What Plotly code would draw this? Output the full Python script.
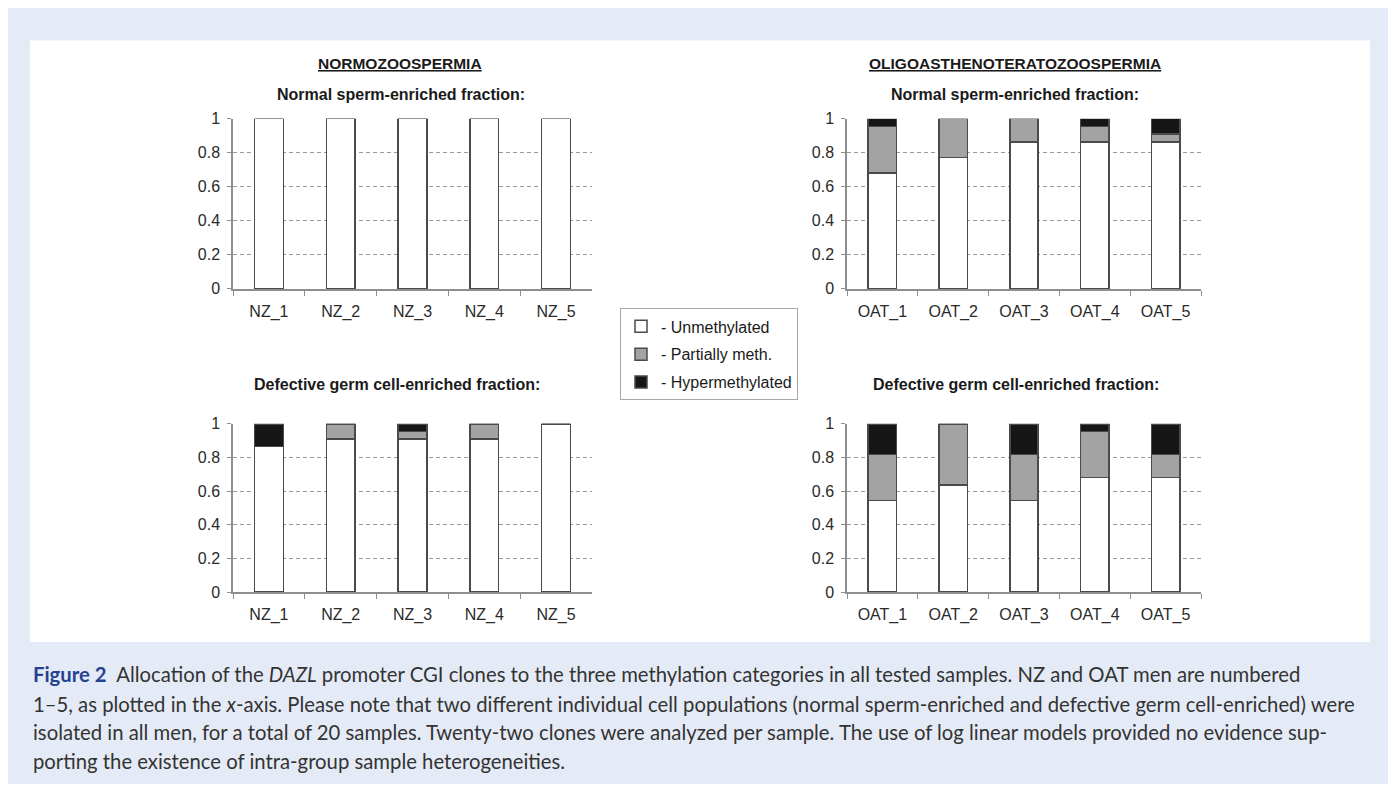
import plotly.graph_objects as go

# Figure is 1380x776; the page's default 8px body margin places it at (8,8)
# inside the 1396x792 window, so reference pixel (rx, ry) -> layout (rx-8, ry-8).
W, H = 1380, 776
OFF = 8

nz_labels = ["NZ_1", "NZ_2", "NZ_3", "NZ_4", "NZ_5"]
oat_labels = ["OAT_1", "OAT_2", "OAT_3", "OAT_4", "OAT_5"]

# Normozoospermia - normal sperm-enriched fraction
nz_norm_unmeth = [1.0, 1.0, 1.0, 1.0, 1.0]
nz_norm_partial = [0.0, 0.0, 0.0, 0.0, 0.0]
nz_norm_hyper = [0.0, 0.0, 0.0, 0.0, 0.0]

# OAT - normal sperm-enriched fraction
oat_norm_unmeth = [0.682, 0.773, 0.864, 0.864, 0.864]
oat_norm_partial = [0.273, 0.227, 0.136, 0.091, 0.045]
oat_norm_hyper = [0.045, 0.0, 0.0, 0.045, 0.091]

# Normozoospermia - defective germ cell-enriched fraction
nz_def_unmeth = [0.864, 0.909, 0.909, 0.909, 1.0]
nz_def_partial = [0.0, 0.091, 0.045, 0.091, 0.0]
nz_def_hyper = [0.136, 0.0, 0.045, 0.0, 0.0]

# OAT - defective germ cell-enriched fraction
oat_def_unmeth = [0.545, 0.636, 0.545, 0.682, 0.682]
oat_def_partial = [0.273, 0.364, 0.273, 0.273, 0.136]
oat_def_hyper = [0.182, 0.0, 0.182, 0.045, 0.182]

series_names = ["- Unmethylated", "- Partially meth.", "- Hypermethylated"]
series_colors = ["#ffffff", "#a3a3a3", "#161616"]

panels = [
    ("x", "y", nz_labels, [nz_norm_unmeth, nz_norm_partial, nz_norm_hyper]),
    ("x2", "y2", oat_labels, [oat_norm_unmeth, oat_norm_partial, oat_norm_hyper]),
    ("x3", "y3", nz_labels, [nz_def_unmeth, nz_def_partial, nz_def_hyper]),
    ("x4", "y4", oat_labels, [oat_def_unmeth, oat_def_partial, oat_def_hyper]),
]

fig = go.Figure()
for pi, (xa, ya, cats, vals) in enumerate(panels):
    for si in range(3):
        fig.add_trace(go.Bar(
            x=cats, y=vals[si], xaxis=xa, yaxis=ya,
            name=series_names[si], legendgroup=series_names[si],
            showlegend=(pi == 1),
            marker=dict(color=series_colors[si], line=dict(color="#4a4a4a", width=1.5)),
            hoverinfo="x+y+name",
        ))


def px_x(p):
    return (p - OFF) / W


def px_y(p):
    return 1 - (p - OFF) / H


FONT = "Liberation Sans, Arial, sans-serif"
tickfont = dict(family=FONT, size=16, color="#2a2a2a")
grid = dict(showgrid=True, gridcolor="#9a9a9a", griddash="4px,3px", gridwidth=1)


def xaxis(x0, x1, anchor):
    return dict(domain=[px_x(x0), px_x(x1)], anchor=anchor, type="category",
                showline=True, linecolor="#8e8e8e", linewidth=1.5,
                ticks="outside", tickson="boundaries", ticklen=5, tickcolor="#8e8e8e",
                tickwidth=1.2, showgrid=False, tickfont=tickfont, ticklabelstandoff=7,
                range=[-0.5, 4.5], fixedrange=True)


def yaxis(y0, y1, anchor):
    return dict(domain=[px_y(y1), px_y(y0)], anchor=anchor, range=[0, 1],
                tickvals=[0, 0.2, 0.4, 0.6, 0.8, 1], ticktext=["0", "0.2", "0.4", "0.6", "0.8", "1"],
                showline=True, linecolor="#8e8e8e", linewidth=1.5,
                ticks="outside", ticklen=4, tickcolor="#8e8e8e", tickwidth=1.2,
                tickfont=tickfont, ticklabelstandoff=4, zeroline=False, fixedrange=True, **grid)


fig.update_layout(
    width=W, height=H,
    margin=dict(l=0, r=0, t=0, b=0),
    paper_bgcolor="#e5ebf6", plot_bgcolor="#ffffff",
    barmode="stack", bargap=0.6,
    xaxis=xaxis(233, 592, "y"), yaxis=yaxis(113, 287, "x"),
    xaxis2=xaxis(847, 1201, "y2"), yaxis2=yaxis(113, 287, "x2"),
    xaxis3=xaxis(233, 592, "y3"), yaxis3=yaxis(425, 597, "x3"),
    xaxis4=xaxis(847, 1201, "y4"), yaxis4=yaxis(425, 597, "x4"),
    legend=dict(x=px_x(620), y=px_y(307), xanchor="left", yanchor="top",
                bgcolor="#ffffff", bordercolor="#a8a8a8", borderwidth=1,
                font=dict(family=FONT, size=16, color="#1a1a1a"),
                traceorder="grouped", tracegroupgap=4, itemclick=False, itemdoubleclick=False),
    showlegend=True,
)

# white figure panel on the light blue page
fig.add_shape(type="rect", xref="paper", yref="paper", x0=px_x(30), x1=px_x(1370),
              y0=px_y(648), y1=px_y(33), fillcolor="#ffffff", line=dict(width=0), layer="below")

titles = [
    ("<b><u>NORMOZOOSPERMIA</u></b>", 400, 57, 15.5),
    ("<b><u>OLIGOASTHENOTERATOZOOSPERMIA</u></b>", 1015, 57, 15.5),
    ("<b>Normal sperm-enriched fraction:</b>", 401, 88, 16),
    ("<b>Normal sperm-enriched fraction:</b>", 1015, 88, 16),
    ("<b>Defective germ cell-enriched fraction:</b>", 397, 385, 16),
    ("<b>Defective germ cell-enriched fraction:</b>", 1016, 385, 16),
]
for txt, cx, cy, fs in titles:
    fig.add_annotation(text=txt, x=px_x(cx), y=px_y(cy), xref="paper", yref="paper",
                       showarrow=False, xanchor="center", yanchor="middle",
                       font=dict(family=FONT, size=fs, color="#1a1a1a"))

cap_font = "Lato, Open Sans, sans-serif"
caption_lines = [
    "<b><span style='color:#24428f'>Figure 2</span></b>  Allocation of the <i>DAZL</i> promoter CGI clones to the three methylation categories in all tested samples. NZ and OAT men are numbered",
    "1–5, as plotted in the <i>x</i>-axis. Please note that two different individual cell populations (normal sperm-enriched and defective germ cell-enriched) were",
    "isolated in all men, for a total of 20 samples. Twenty-two clones were analyzed per sample. The use of log linear models provided no evidence sup-",
    "porting the existence of intra-group sample heterogeneities.",
]
cap_y = [681, 711, 740, 770]
for line, cy in zip(caption_lines, cap_y):
    fig.add_annotation(text=line, x=px_x(31), y=px_y(cy), xref="paper", yref="paper",
                       showarrow=False, xanchor="left", yanchor="middle", align="left",
                       font=dict(family=cap_font, size=20.3, color="#333333"))

fig.write_html("out.html")
